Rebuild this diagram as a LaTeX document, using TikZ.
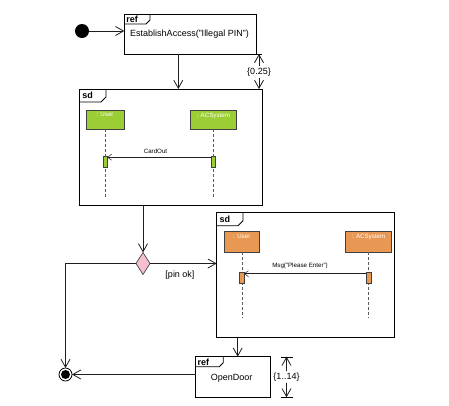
\documentclass[tikz,border=0pt]{standalone}
\usepackage{fontspec}
\setmainfont{Liberation Sans}
\usetikzlibrary{arrows.meta,shapes.geometric,calc}
\definecolor{lifegreen}{RGB}{154,206,52}
\definecolor{lifeorange}{RGB}{232,152,82}
\definecolor{decpink}{RGB}{244,192,206}
\definecolor{lineclr}{RGB}{30,30,30}
\definecolor{lifeline}{RGB}{90,90,90}
\begin{document}
\begin{tikzpicture}[x=1pt,y=-1pt,
  every node/.style={inner sep=0pt, outer sep=0pt},
  lbl/.style={font=\fontsize{9}{10}\selectfont},
  small/.style={font=\fontsize{6.2}{7}\selectfont},
  tabtxt/.style={font=\bfseries\fontsize{9}{10}\selectfont, anchor=west},
  frame/.style={rectangle, draw=black, line width=0.8pt},
  flow/.style={draw=lineclr, line width=0.8pt, -{Straight Barb[length=8pt,width=9pt,line width=0.8pt]}},
  msg/.style={draw=lineclr, line width=0.5pt, -{Straight Barb[length=4pt,width=6pt,line width=0.5pt]}},
  headbox/.style={rectangle, draw=black!75, line width=0.6pt},
  headtxt/.style={font=\fontsize{6.2}{7}\selectfont, text=white, anchor=north},
  actbox/.style={rectangle, draw=black!75, line width=0.5pt, minimum width=4.5pt, minimum height=11pt},
  lifedash/.style={draw=lifeline, line width=0.6pt, dash pattern=on 3pt off 2pt},
]
\useasboundingbox (0,0) rectangle (449,405);

% ---- initial node and first interaction use
\node[circle, fill=black, minimum size=14pt] (ini) at (82,31) {};
\node[frame, minimum width=132.4pt, minimum height=40pt] (ref1) at (190.5,34) {};
\draw[line width=0.8pt] ([yshift=-10pt]ref1.north west) -- ++(21.7pt,0pt) -- ++(4pt,4pt) -- ([xshift=25.7pt]ref1.north west);
\node[tabtxt] (ref1t) at ([xshift=2pt,yshift=-5.2pt]ref1.north west) {ref};
\node[lbl] (ref1l) at (189.5,34.5) {EstablishAccess("Illegal PIN")};
\draw[flow] (ini.east) -- (ini -| ref1.west);

% ---- first sequence frame
\node[frame, minimum width=183.4pt, minimum height=116pt] (sd1) at (171,147) {};
\draw[line width=0.8pt] ([yshift=-13pt]sd1.north west) -- ++(21.7pt,0pt) -- ++(5pt,5pt) -- ([xshift=26.7pt]sd1.north west);
\node[tabtxt] (sd1t) at ([xshift=3pt,yshift=-6.5pt]sd1.north west) {sd};

\node[headbox, fill=lifegreen, minimum width=38pt, minimum height=18.6pt] (u1) at (105,120) {};
\node[headtxt] (u1t) at ([yshift=-2pt]u1.north) {: User};
\node[headbox, fill=lifegreen, minimum width=45.3pt, minimum height=18.6pt] (s1) at (213.3,120) {};
\node[headtxt] (s1t) at ([yshift=-2pt]s1.north) {: ACSystem};
\draw[lifedash] (u1.south) -- (105,197);
\draw[lifedash] (s1.south) -- (213.3,197);
\node[actbox, fill=lifegreen] (u1a) at (105,161.5) {};
\node[actbox, fill=lifegreen] (s1a) at (213.3,161.5) {};
\draw[msg] ([yshift=-1.2pt]s1a.north west) -- ([yshift=-1.2pt]u1a.north east);
\node[small] (m1) at (155.5,151) {CardOut};

\coordinate (f1) at (178.3,54);
\draw[flow] (f1) -- (f1 |- sd1.north);

% duration constraint between the two frames
\node[lbl, inner sep=1.5pt] (d1) at (259,72) {\{0.25\}};
\draw (ref1.south east) -- ++(5pt,0pt);
\draw[flow] (d1.north) -- (d1.north |- ref1.south);
\draw[flow] (d1.south) -- (d1.south |- sd1.north);

% ---- decision
\node[diamond, draw=black!80, line width=0.6pt, fill=decpink, aspect=0.636, minimum width=14pt, minimum height=22pt] (dec) at (143,263.5) {};
\draw[flow] (dec |- sd1.south) -- (dec.north);

% ---- second sequence frame
\node[frame, minimum width=177.6pt, minimum height=124.6pt] (sd2) at (305.5,275) {};
\draw[line width=0.8pt] ([yshift=-13pt]sd2.north west) -- ++(21.3pt,0pt) -- ++(5pt,5pt) -- ([xshift=26.3pt]sd2.north west);
\node[tabtxt] (sd2t) at ([xshift=3pt,yshift=-6.5pt]sd2.north west) {sd};

\node[headbox, fill=lifeorange, minimum width=35pt, minimum height=20.6pt] (u2) at (241.8,242) {};
\node[headtxt] (u2t) at ([yshift=-2.5pt]u2.north) {: User};
\node[headbox, fill=lifeorange, minimum width=46pt, minimum height=20.6pt] (s2) at (368.7,242) {};
\node[headtxt] (s2t) at ([yshift=-2.5pt]s2.north) {: ACSystem};
\draw[lifedash] (u2.south) -- (241.8,318);
\draw[lifedash] (s2.south) -- (368.7,318);
\node[actbox, fill=lifeorange] (u2a) at (241.8,278) {};
\node[actbox, fill=lifeorange] (s2a) at (368.7,278) {};
\draw[msg] ([yshift=-1.2pt]s2a.north west) -- ([yshift=-1.2pt]u2a.north east);
\node[small] (m2) at (300,266) {Msg("Please Enter")};

\draw[flow] (dec.east) -- (dec.east -| sd2.west);
\node[lbl] (g1) at (180,275.5) {[pin ok]};

% ---- second interaction use and final node
\node[frame, minimum width=74.3pt, minimum height=40.6pt] (ref2) at (232.85,377) {};
\draw[line width=0.8pt] ([yshift=-10pt]ref2.north west) -- ++(23.6pt,0pt) -- ++(4pt,4pt) -- ([xshift=27.6pt]ref2.north west);
\node[tabtxt] (ref2t) at ([xshift=2pt,yshift=-5.2pt]ref2.north west) {ref};
\node[lbl] (ref2l) at (231.7,378) {OpenDoor};

\coordinate (f2) at (237.7,0);
\draw[flow] (f2 |- sd2.south) -- (f2 |- ref2.north);

\node[circle, draw=black, line width=0.8pt, minimum size=13pt] (fin) at (65.5,374.5) {};
\node[circle, fill=black, minimum size=9pt] (fini) at (fin) {};
\draw[flow] (dec.west) -| (fin.north);
\draw[flow] (ref2.west |- fin) -- (fin.east);

% duration constraint on the last interaction use
\node[lbl, inner sep=1.5pt] (d2) at (286.5,377) {\{1..14\}};
\draw[flow] (d2.north) -- (d2.north |- ref2.north);
\draw[flow] (d2.south) -- (d2.south |- ref2.south);
\draw ([xshift=-6pt]d2.north |- ref2.north) -- ++(12pt,0pt);
\draw ([xshift=-6pt]d2.south |- ref2.south) -- ++(12pt,0pt);
\end{tikzpicture}
\end{document}
